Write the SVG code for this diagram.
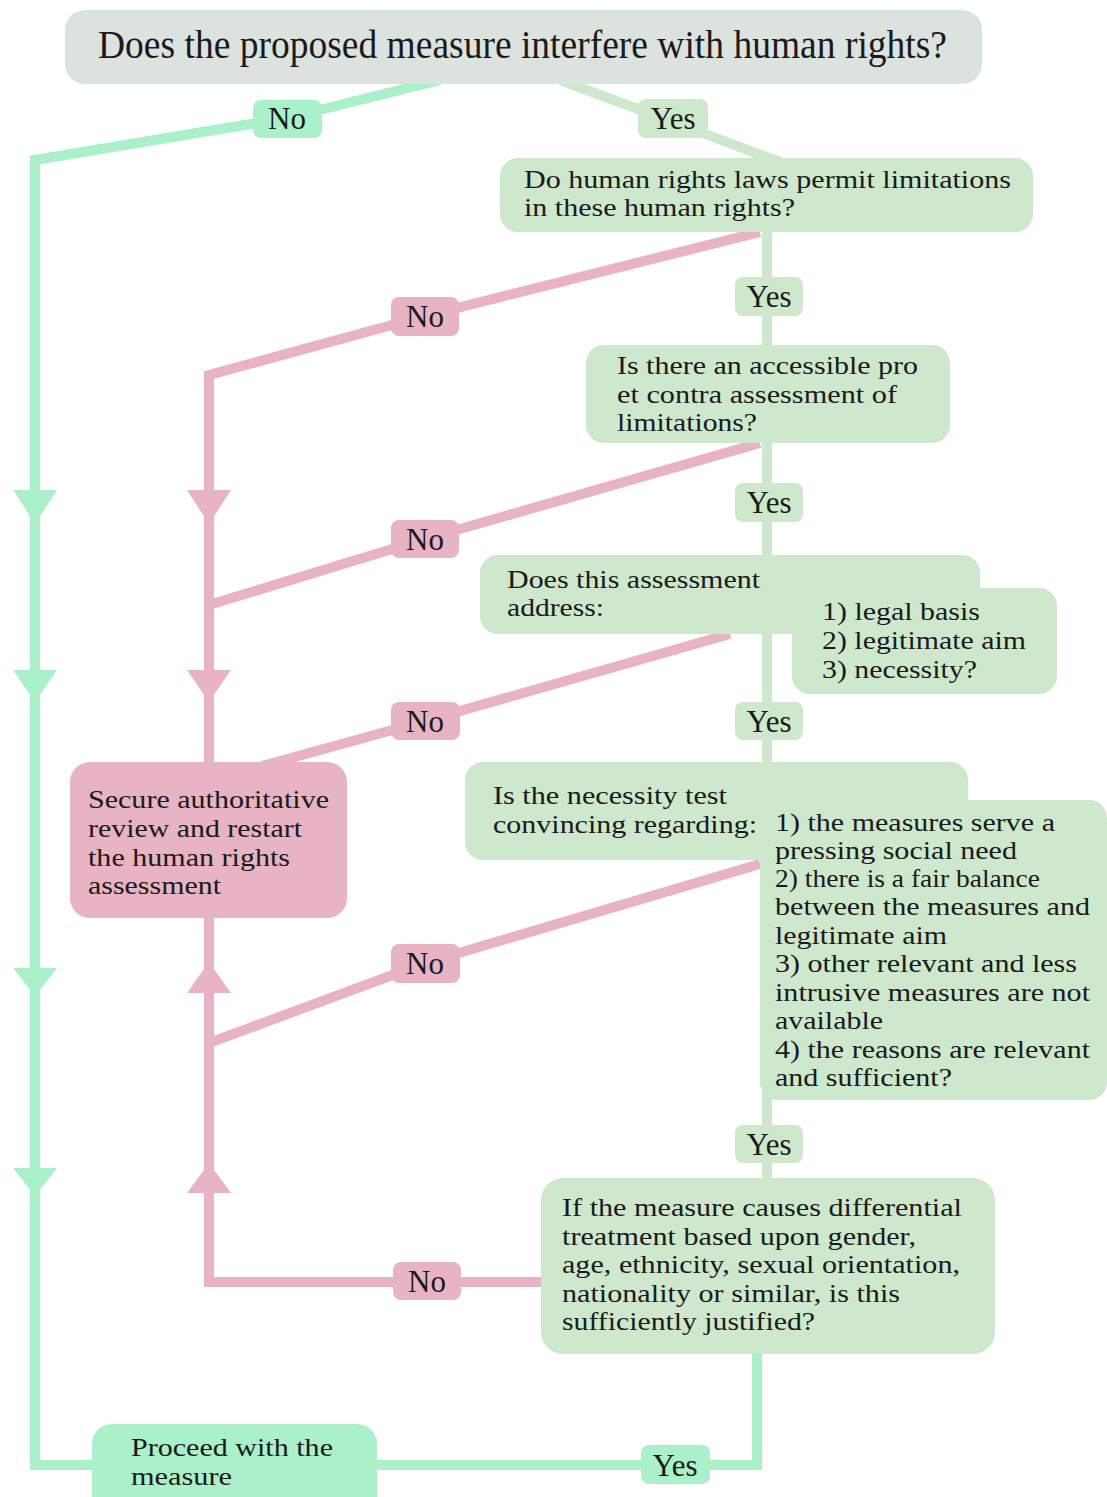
<svg xmlns="http://www.w3.org/2000/svg" width="1107" height="1497" viewBox="0 0 1107 1497">
<style>
.t{font-family:"Liberation Serif","Times New Roman",serif;font-size:25px;fill:#1a1a1a}
.top{font-size:40px}
.lbl{font-family:"Liberation Serif","Times New Roman",serif;font-size:31px;fill:#1a1a1a;text-anchor:middle}
.mint{stroke:#aaf0ca;stroke-width:10;fill:none}
.gr{stroke:#cde8cd;stroke-width:10;fill:none}
.pk{stroke:#e8b3c3;stroke-width:10;fill:none}
.fg{fill:#cde8cd}
.fm{fill:#aaf0ca}
.fp{fill:#e8b3c3}
</style>
<rect width="1107" height="1497" fill="#ffffff"/>
<g id="connectors">
<path class="mint" d="M440 80 L287 118 L35 160 L35 1465 L757 1465 L757 1340"/>
<path class="gr" d="M560 80 L780 162"/>
<path class="gr" d="M767 200 L767 1200"/>
<path class="pk" d="M760 232 L425 316 L209 375 L209 770"/>
<path class="pk" d="M760 443 L425 539 L209 605"/>
<path class="pk" d="M730 634 L425 721 L262 766"/>
<path class="pk" d="M760 864 L425 963 L209 1043"/>
<path class="pk" d="M550 1282 L209 1282 L209 910"/>
<polygon class="fm" points="13,490 57,490 35,524"/>
<polygon class="fm" points="13,670 57,670 35,702"/>
<polygon class="fm" points="13,968 57,968 35,996"/>
<polygon class="fm" points="13,1168 57,1168 35,1196"/>
<polygon class="fp" points="187,490 231,490 209,524"/>
<polygon class="fp" points="187,670 231,670 209,702"/>
<polygon class="fp" points="187,993 231,993 209,962"/>
<polygon class="fp" points="187,1193 231,1193 209,1163"/>
<g id="lbl-no-top"><rect class="fm" x="253" y="100" width="69" height="38" rx="8"/><text class="lbl" x="287" y="129">No</text></g>
<g id="lbl-yes-top"><rect class="fg" x="638" y="99" width="70" height="39" rx="8"/><text class="lbl" x="673" y="129">Yes</text></g>
<g id="lbl-yes-2"><rect class="fg" x="735" y="277" width="68" height="39" rx="8"/><text class="lbl" x="769" y="307">Yes</text></g>
<g id="lbl-no-1"><rect class="fp" x="391" y="297" width="68" height="39" rx="8"/><text class="lbl" x="425" y="327">No</text></g>
<g id="lbl-yes-3"><rect class="fg" x="735" y="483" width="68" height="39" rx="8"/><text class="lbl" x="769" y="513">Yes</text></g>
<g id="lbl-no-2"><rect class="fp" x="391" y="520" width="68" height="38" rx="8"/><text class="lbl" x="425" y="550">No</text></g>
<g id="lbl-yes-4"><rect class="fg" x="735" y="702" width="68" height="38" rx="8"/><text class="lbl" x="769" y="732">Yes</text></g>
<g id="lbl-no-3"><rect class="fp" x="391" y="702" width="69" height="38" rx="8"/><text class="lbl" x="425" y="732">No</text></g>
<g id="lbl-no-4"><rect class="fp" x="391" y="944" width="69" height="39" rx="8"/><text class="lbl" x="425" y="974">No</text></g>
<g id="lbl-yes-5"><rect class="fg" x="735" y="1125" width="68" height="38" rx="8"/><text class="lbl" x="769" y="1155">Yes</text></g>
<g id="lbl-no-5"><rect class="fp" x="393" y="1262" width="68" height="38" rx="8"/><text class="lbl" x="427" y="1292">No</text></g>
<g id="lbl-yes-bottom"><rect class="fm" x="641" y="1445" width="69" height="39" rx="8"/><text class="lbl" x="675" y="1476">Yes</text></g>
</g>
<g id="n-top">
<rect x="65" y="10" width="917" height="74" rx="20" fill="#dce2de"/>
<text class="t top" x="98" y="58" textLength="849" lengthAdjust="spacingAndGlyphs">Does the proposed measure interfere with human rights?</text>
</g>
<g id="n-permit">
<rect class="fg" x="500" y="158" width="533" height="74" rx="18"/>
<text class="t" x="524" y="188" textLength="487" lengthAdjust="spacingAndGlyphs">Do human rights laws permit limitations</text>
<text class="t" x="524" y="216" textLength="271" lengthAdjust="spacingAndGlyphs">in these human rights?</text>
</g>
<g id="n-accessible">
<rect class="fg" x="586" y="345" width="364" height="98" rx="18"/>
<text class="t" x="617" y="374" textLength="301" lengthAdjust="spacingAndGlyphs">Is there an accessible pro</text>
<text class="t" x="617" y="403" textLength="280" lengthAdjust="spacingAndGlyphs">et contra assessment of</text>
<text class="t" x="617" y="431" textLength="140" lengthAdjust="spacingAndGlyphs">limitations?</text>
</g>
<g id="n-address">
<rect class="fg" x="480" y="555" width="500" height="79" rx="18"/>
<rect class="fg" x="792" y="588" width="265" height="106" rx="18"/>
<text class="t" x="507" y="588" textLength="253" lengthAdjust="spacingAndGlyphs">Does this assessment</text>
<text class="t" x="507" y="616" textLength="97" lengthAdjust="spacingAndGlyphs">address:</text>
<text class="t" x="822" y="620" textLength="158" lengthAdjust="spacingAndGlyphs">1) legal basis</text>
<text class="t" x="822" y="649" textLength="204" lengthAdjust="spacingAndGlyphs">2) legitimate aim</text>
<text class="t" x="822" y="678" textLength="155" lengthAdjust="spacingAndGlyphs">3) necessity?</text>
</g>
<g id="n-necessity">
<rect class="fg" x="465" y="762" width="503" height="98" rx="18"/>
<rect class="fg" x="760" y="800" width="347" height="300" rx="18"/>
<text class="t" x="493" y="804" textLength="234" lengthAdjust="spacingAndGlyphs">Is the necessity test</text>
<text class="t" x="493" y="833" textLength="264" lengthAdjust="spacingAndGlyphs">convincing regarding:</text>
<text class="t" x="775" y="831" textLength="280" lengthAdjust="spacingAndGlyphs">1) the measures serve a</text>
<text class="t" x="775" y="859" textLength="242" lengthAdjust="spacingAndGlyphs">pressing social need</text>
<text class="t" x="775" y="887" textLength="265" lengthAdjust="spacingAndGlyphs">2) there is a fair balance</text>
<text class="t" x="775" y="915" textLength="315" lengthAdjust="spacingAndGlyphs">between the measures and</text>
<text class="t" x="775" y="944" textLength="172" lengthAdjust="spacingAndGlyphs">legitimate aim</text>
<text class="t" x="775" y="972" textLength="302" lengthAdjust="spacingAndGlyphs">3) other relevant and less</text>
<text class="t" x="775" y="1001" textLength="315" lengthAdjust="spacingAndGlyphs">intrusive measures are not</text>
<text class="t" x="775" y="1029" textLength="108" lengthAdjust="spacingAndGlyphs">available</text>
<text class="t" x="775" y="1058" textLength="315" lengthAdjust="spacingAndGlyphs">4) the reasons are relevant</text>
<text class="t" x="775" y="1086" textLength="177" lengthAdjust="spacingAndGlyphs">and sufficient?</text>
</g>
<g id="n-differential">
<rect class="fg" x="541" y="1178" width="454" height="176" rx="22"/>
<text class="t" x="562" y="1216" textLength="400" lengthAdjust="spacingAndGlyphs">If the measure causes differential</text>
<text class="t" x="562" y="1245" textLength="354" lengthAdjust="spacingAndGlyphs">treatment based upon gender,</text>
<text class="t" x="562" y="1273" textLength="398" lengthAdjust="spacingAndGlyphs">age, ethnicity, sexual orientation,</text>
<text class="t" x="562" y="1302" textLength="338" lengthAdjust="spacingAndGlyphs">nationality or similar, is this</text>
<text class="t" x="562" y="1330" textLength="253" lengthAdjust="spacingAndGlyphs">sufficiently justified?</text>
</g>
<g id="n-secure">
<rect class="fp" x="70" y="762" width="277" height="156" rx="20"/>
<text class="t" x="88" y="808" textLength="241" lengthAdjust="spacingAndGlyphs">Secure authoritative</text>
<text class="t" x="88" y="837" textLength="214" lengthAdjust="spacingAndGlyphs">review and restart</text>
<text class="t" x="88" y="866" textLength="202" lengthAdjust="spacingAndGlyphs">the human rights</text>
<text class="t" x="88" y="894" textLength="133" lengthAdjust="spacingAndGlyphs">assessment</text>
</g>
<g id="n-proceed">
<rect class="fm" x="92" y="1424" width="285" height="95" rx="20"/>
<text class="t" x="131" y="1456" textLength="202" lengthAdjust="spacingAndGlyphs">Proceed with the</text>
<text class="t" x="131" y="1485" textLength="101" lengthAdjust="spacingAndGlyphs">measure</text>
</g>
</svg>
